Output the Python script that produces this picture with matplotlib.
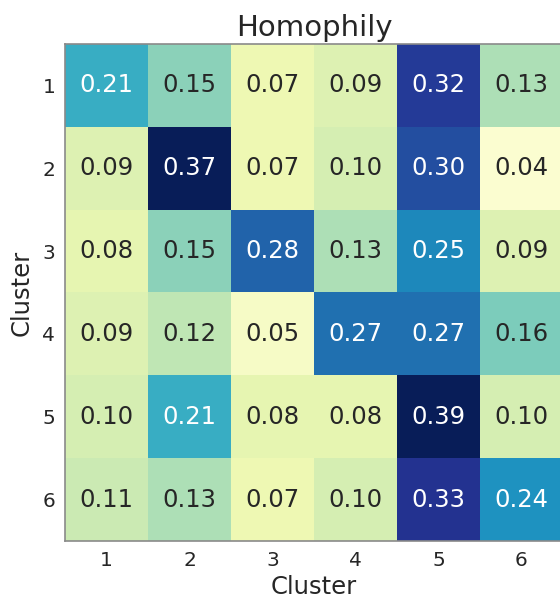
import numpy as np
import matplotlib
matplotlib.use("Agg")
import matplotlib.pyplot as plt

# Cluster-to-cluster homophily values
clusters = ["1", "2", "3", "4", "5", "6"]
row1 = [0.21, 0.15, 0.07, 0.09, 0.32, 0.13]
row2 = [0.09, 0.37, 0.07, 0.10, 0.30, 0.04]
row3 = [0.08, 0.15, 0.28, 0.13, 0.25, 0.09]
row4 = [0.09, 0.12, 0.05, 0.27, 0.27, 0.16]
row5 = [0.10, 0.21, 0.08, 0.08, 0.39, 0.10]
row6 = [0.11, 0.13, 0.07, 0.10, 0.33, 0.24]

vals = np.array([row1, row2, row3, row4, row5, row6])
dark = "#262626"

fig = plt.figure(figsize=(5.6, 6.03), dpi=100)
# axes runs slightly past the right edge, like the cropped original
ax = fig.add_axes([65 / 560, 1 - 541 / 603, 498 / 560, 497 / 603])

ax.imshow(vals, cmap="YlGnBu", vmin=0.03, vmax=0.37, aspect="auto")

for i in range(vals.shape[0]):
    for j in range(vals.shape[1]):
        v = vals[i, j]
        col = "white" if v >= 0.2 else dark
        ax.text(j, i, f"{v:.2f}", ha="center", va="center",
                fontsize=17.5, color=col)

ax.set_xticks(range(len(clusters)))
ax.set_yticks(range(len(clusters)))
ax.set_xticklabels(clusters)
ax.set_yticklabels(clusters)
ax.tick_params(length=0, labelsize=14.5, labelcolor=dark, pad=7)
for s in ax.spines.values():
    s.set_color("#8a8a8a")
    s.set_linewidth(1.2)

ax.set_title("Homophily", fontsize=21, color=dark, pad=6)
ax.set_xlabel("Cluster", fontsize=17.5, color=dark, labelpad=4)
ax.set_ylabel("Cluster", fontsize=17.5, color=dark, labelpad=6)

fig.savefig("out.png", dpi=100)
